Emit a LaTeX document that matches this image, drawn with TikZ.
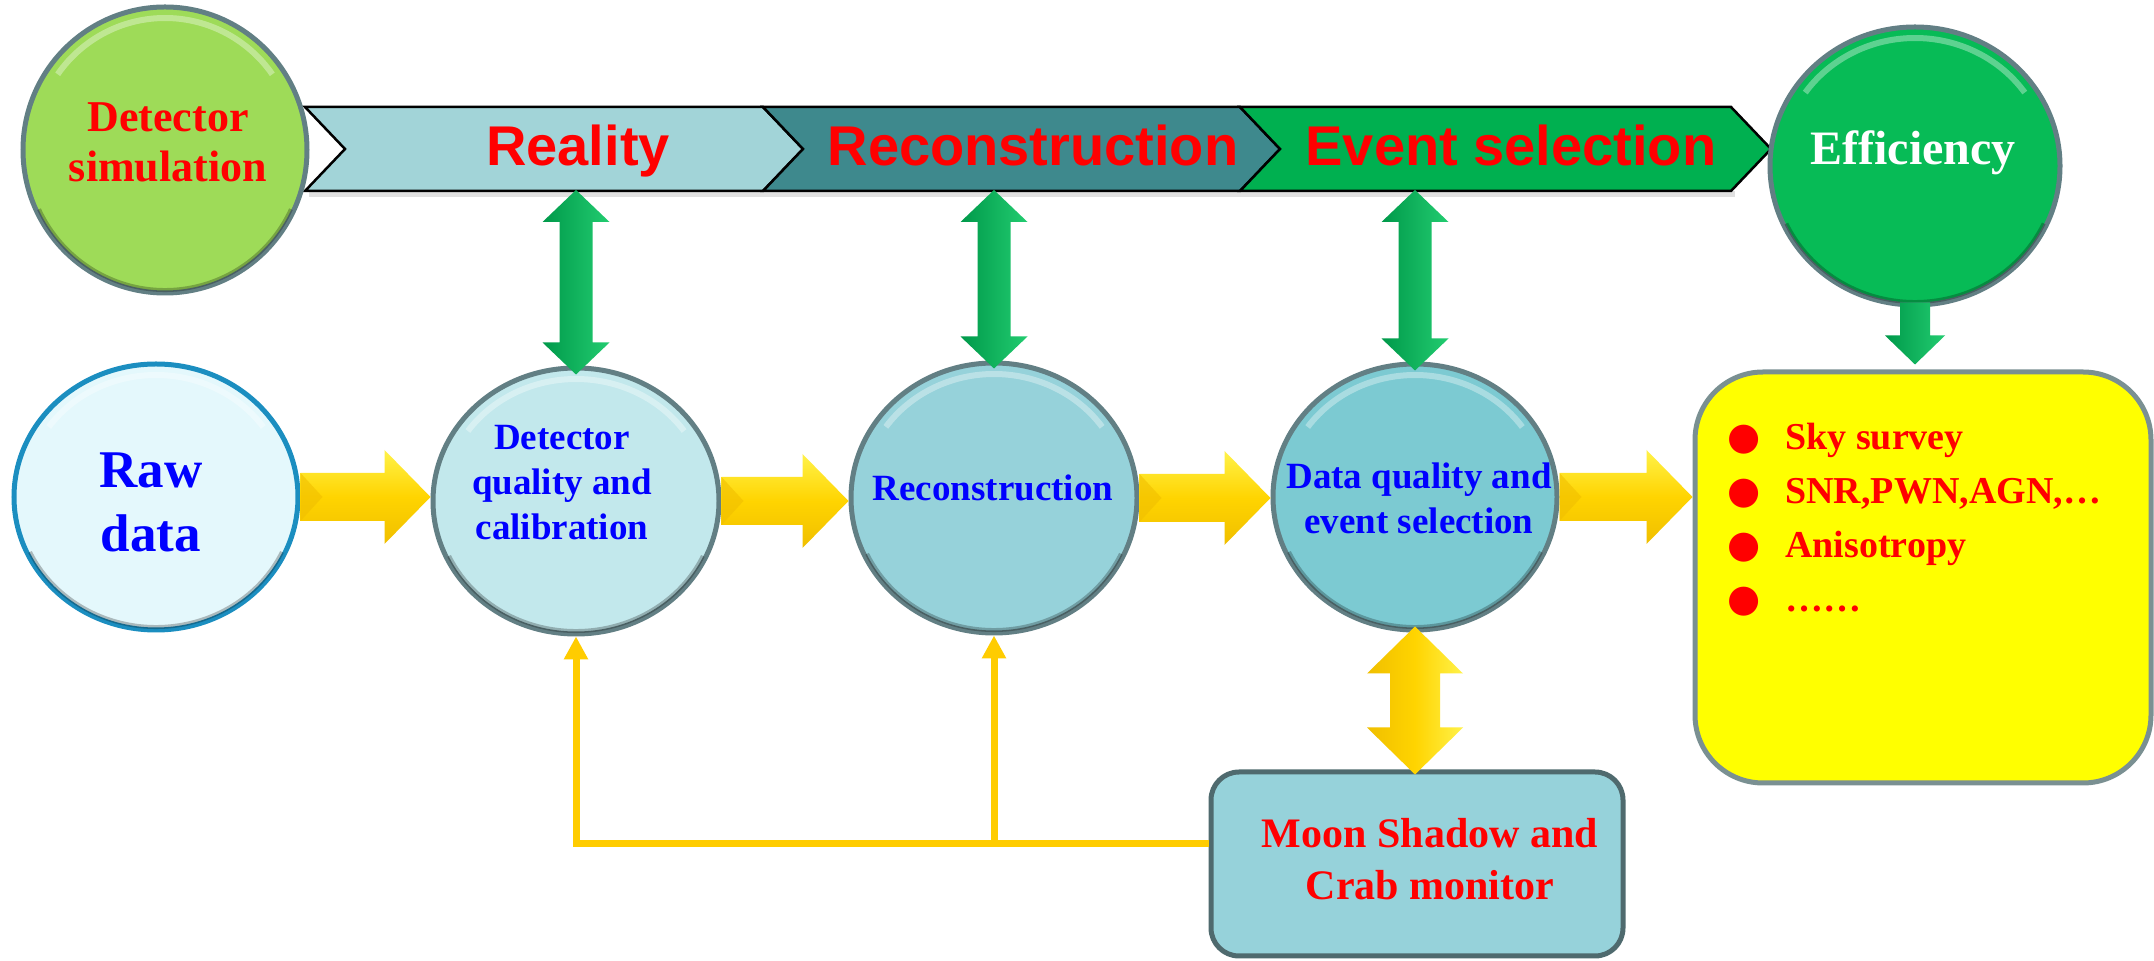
\documentclass[tikz,border=0pt]{standalone}
\usepackage{fontspec}
\setmainfont{Liberation Serif}
\newfontfamily\arialfont{Liberation Sans}
\newfontfamily\dejavu{DejaVu Sans}
\usetikzlibrary{calc,arrows.meta,shapes.geometric}

\definecolor{simgreen}{HTML}{9EDB58}
\definecolor{effgreen}{HTML}{07BB56}
\definecolor{rawfill}{HTML}{E4F8FC}
\definecolor{rawrim}{HTML}{1B8EC0}
\definecolor{dqfill}{HTML}{C2E8EC}
\definecolor{recfill}{HTML}{96D2DA}
\definecolor{daqfill}{HTML}{7CCAD2}
\definecolor{rimgray}{HTML}{627F84}
\definecolor{banA}{HTML}{A2D4D8}
\definecolor{banB}{HTML}{3E898D}
\definecolor{banC}{HTML}{00B050}
\definecolor{boxyellow}{HTML}{FFFF00}
\definecolor{boxrim}{HTML}{7A9092}
\definecolor{moonfill}{HTML}{96D2DA}
\definecolor{moonrim}{HTML}{4F6A6E}
\definecolor{gdark}{HTML}{00994A}
\definecolor{glight}{HTML}{22CC70}
\definecolor{ydark}{HTML}{F0BF00}
\definecolor{ymid}{HTML}{FFD400}
\definecolor{ylight}{HTML}{FFF24A}
\definecolor{fbyellow}{HTML}{FFCC00}
\definecolor{txtred}{HTML}{FF0000}
\definecolor{txtblue}{HTML}{0000FF}

\tikzset{
  ell/.style={ellipse, draw=rimgray, line width=2.5pt, inner sep=0pt},
  banseg/.style={draw=black, line width=1.25pt, line join=miter},
  bantxt/.style={font={\arialfont\bfseries\fontsize{28}{32}\selectfont}, text=txtred, inner sep=0pt, anchor=base},
  bluetxt/.style={font={\bfseries\fontsize{18.5}{22.5}\selectfont}, text=txtblue, align=center, inner sep=0pt},
  simtxt/.style={font={\bfseries\fontsize{22}{25}\selectfont}, text=txtred, align=center, inner sep=0pt},
  rawtxt/.style={font={\bfseries\fontsize{26.5}{32}\selectfont}, text=txtblue, align=center, inner sep=0pt},
  efftxt/.style={font={\bfseries\fontsize{24}{28}\selectfont}, text=white, inner sep=0pt, anchor=base},
  moontxt/.style={font={\bfseries\fontsize{21}{26}\selectfont}, text=txtred, align=center, inner sep=0pt},
  listtxt/.style={font={\bfseries\fontsize{19}{27}\selectfont}, text=txtred, align=left, inner sep=0pt},
  yshaft/.style={top color=ylight, bottom color=ydark, middle color=ymid},
  yvshaft/.style={left color=ydark, right color=ylight, middle color=ymid},
  gshaft/.style={left color=gdark, right color=glight},
  fb/.style={draw=fbyellow, line width=3.5pt, -{Triangle[length=11.5pt,width=11.5pt]}},
  glintst/.style={white, opacity=0.35, line width=3pt},
  rimst/.style={black, opacity=0.25, line width=2pt},
  banshadow/.style={fill=black, opacity=0.12},
}

% horizontal fat arrow from east of #1 to west of #2
\newcommand\yhArrow[2]{%
  \path (#1.east) coordinate (hs) (#1.east -| #2.west) coordinate (he);
  \path[yshaft] ($(hs)+(0,-24)$) -- ($(he)+(-46,-24)$) -- ($(he)+(-46,-47)$) -- (he)
     -- ($(he)+(-46,47)$) -- ($(he)+(-46,24)$) -- ($(hs)+(0,24)$) -- cycle;
  \fill[ydark, opacity=0.6] ($(hs)+(0,-24)$) -- ($(hs)+(22,0)$) -- ($(hs)+(0,24)$) -- cycle;
}
% vertical double fat arrow: top #1, bottom #2, shaft half #3, head half #4, head length #5, style #6
\newcommand\vdArrow[6]{%
  \path[#6] (#1) -- ($(#1)+(#4,#5)$) -- ($(#1)+(#3,#5)$) -- ($(#2)+(#3,-#5)$) -- ($(#2)+(#4,-#5)$)
     -- (#2) -- ($(#2)+(-#4,-#5)$) -- ($(#2)+(-#3,-#5)$) -- ($(#1)+(-#3,#5)$) -- ($(#1)+(-#4,#5)$) -- cycle;
}
% glossy highlight: node, inner rx, inner ry, rim rx, rim ry
\newcommand\glint[5]{%
  \draw[glintst] ($(#1.center)+(215:#2 and #3)$) arc[start angle=215, end angle=325, x radius=#2, y radius=#3];
  \draw[rimst] ($(#1.center)+(25:#4 and #5)$) arc[start angle=25, end angle=155, x radius=#4, y radius=#5];
}

\begin{document}
\begin{tikzpicture}[x=0.5pt,y=-0.5pt]
\fill[white] (0,0) rectangle (2154,961);
\useasboundingbox (0,0) rectangle (2154,961);

% ---- banner ----
\fill[banshadow] (309,191) -- (1735,191) -- (1735,197) -- (309,197) -- cycle;
\path[banseg, fill=banA] (305,107) -- (763,107) -- (803,149) -- (763,191) -- (305,191) -- (345,149) -- cycle;
\path[banseg, fill=banB] (763,107) -- (1240,107) -- (1280,149) -- (1240,191) -- (763,191) -- (803,149) -- cycle;
\path[banseg, fill=banC] (1240,107) -- (1731,107) -- (1771,149) -- (1731,191) -- (1240,191) -- (1280,149) -- cycle;
\node[bantxt] (realityT) at (578,166) {Reality};
\node[bantxt] (reconT) at (1033,166) {Reconstruction};
\node[bantxt] (evselT) at (1511,166) {Event selection};

% ---- ellipses ----
\node[ell, fill=simgreen, minimum width=142pt, minimum height=143pt] (ds) at (165,150) {};
\node[ell, fill=effgreen, minimum width=145pt, minimum height=139pt] (eff) at (1915,166) {};
\node[ell, fill=rawfill, draw=rawrim, minimum width=142pt, minimum height=133pt] (raw) at (156,497) {};
\node[ell, fill=dqfill, minimum width=143pt, minimum height=133pt] (dq) at (576,501) {};
\node[ell, fill=recfill, minimum width=143pt, minimum height=135pt] (rec) at (994,498) {};
\node[ell, fill=daqfill, minimum width=142pt, minimum height=133pt] (daq) at (1415,497) {};

\glint{ds}{131}{132}{139}{140}
\glint{eff}{134}{128}{142}{136}
\glint{raw}{131}{122}{139}{130}
\glint{dq}{132}{122}{140}{130}
\glint{rec}{132}{124}{140}{132}
\glint{daq}{131}{122}{139}{130}

% ---- boxes ----
\node[draw=boxrim, line width=2.5pt, fill=boxyellow, rounded corners=34pt,
      minimum width=228pt, minimum height=205.5pt, inner sep=0pt] (box) at (1923,577.5) {};
\node[draw=moonrim, line width=2.5pt, fill=moonfill, rounded corners=14pt,
      minimum width=206pt, minimum height=92pt, inner sep=0pt] (moon) at (1417,864) {};

% ---- texts ----
\node[simtxt] (dsT) at (168,142) {Detector\\simulation};
\node[efftxt] (effT) at (1913,165) {Efficiency};
\node[rawtxt] (rawT) at (151,502) {Raw\\data};
\node[bluetxt] (dqT) at (562,482.5) {Detector\\quality and\\calibration};
\node[bluetxt, anchor=base] (recT) at (993,501) {Reconstruction};
\node[bluetxt] (daqT) at (1419,498) {Data quality and\\event selection};
\node[moontxt] (moonT) at (1430,859.5) {Moon Shadow and\\Crab monitor};
\node[listtxt, anchor=north west] (listT) at (1727,423) {%
\makebox[29pt][l]{\dejavu ●}Sky survey\\%
\makebox[29pt][l]{\dejavu ●}SNR,PWN,AGN,…\\%
\makebox[29pt][l]{\dejavu ●}Anisotropy\\%
\makebox[29pt][l]{\dejavu ●}……};

% ---- yellow horizontal arrows ----
\yhArrow{raw}{dq}
\yhArrow{dq}{rec}
\yhArrow{rec}{daq}
\yhArrow{daq}{box}

% ---- green double arrows ----
\coordinate (bb) at (0,190);
\path (dq.north |- bb) coordinate (gA1) ($(dq.north)+(0,9)$) coordinate (gA2);
\path (rec.north |- bb) coordinate (gB1) ($(rec.north)+(0,8)$) coordinate (gB2);
\path (daq.north |- bb) coordinate (gC1) ($(daq.north)+(0,9)$) coordinate (gC2);
\vdArrow{gA1}{gA2}{16.5}{33.5}{32}{gshaft}
\vdArrow{gB1}{gB2}{16.5}{33.5}{32}{gshaft}
\vdArrow{gC1}{gC2}{16.5}{33.5}{32}{gshaft}

% ---- efficiency down arrow ----
\path ($(eff.south)+(0,-5)$) coordinate (e1) (eff.south |- box.north) coordinate (e2);
\path[gshaft] ($(e1)+(-15,0)$) -- ($(e1)+(15,0)$) -- ($(e2)+(15,-34)$) -- ($(e2)+(30,-34)$)
   -- ($(e2)+(0,-5)$) -- ($(e2)+(-30,-34)$) -- ($(e2)+(-15,-34)$) -- cycle;

% ---- yellow double arrow ----
\path ($(daq.south)+(0,-6)$) coordinate (y1) (daq.south |- moon.north) coordinate (y2a);
\path ($(y2a)+(0,5)$) coordinate (y2);
\vdArrow{y1}{y2}{25}{48}{47}{yvshaft}

% ---- feedback lines ----
\coordinate (fbc) at ($(moon.west)+(0,-20)$);
\draw[fb] (fbc) -| (dq.south);
\draw[fb] (rec.south |- fbc) -- (rec.south);
\end{tikzpicture}
\end{document}
